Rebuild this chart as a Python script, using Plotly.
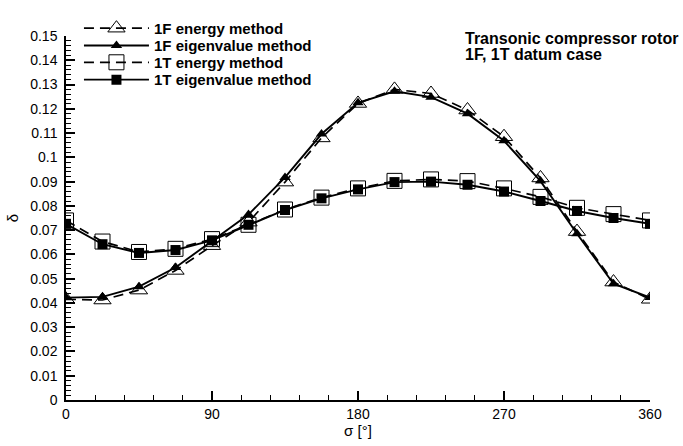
import plotly.graph_objects as go

sigma = [0, 22.5, 45, 67.5, 90, 112.5, 135, 157.5, 180, 202.5, 225, 247.5, 270, 292.5, 315, 337.5, 360]
f1_energy = [0.0415, 0.0412, 0.0453, 0.0534, 0.0636, 0.0733, 0.0898, 0.1080, 0.1222, 0.1280, 0.1263, 0.1195, 0.1085, 0.0915, 0.0694, 0.0486, 0.0415]
f1_eigen = [0.0422, 0.0425, 0.0467, 0.0546, 0.0655, 0.0764, 0.0917, 0.1096, 0.1225, 0.1272, 0.1248, 0.1180, 0.1068, 0.0902, 0.0685, 0.0479, 0.0422]
t1_energy = [0.0740, 0.0653, 0.0610, 0.0623, 0.0663, 0.0722, 0.0785, 0.0834, 0.0872, 0.0903, 0.0909, 0.0902, 0.0872, 0.0837, 0.0792, 0.0766, 0.0740]
t1_eigen = [0.0726, 0.0642, 0.0606, 0.0618, 0.0658, 0.0722, 0.0783, 0.0831, 0.0868, 0.0898, 0.0900, 0.0887, 0.0859, 0.0820, 0.0779, 0.0750, 0.0726]

names = ["1F energy method", "1F eigenvalue method", "1T energy method", "1T eigenvalue method"]

FONT = "Liberation Sans, Arial, Helvetica, sans-serif"
DASH = "10px,6px"

# plot area in pixels
L, R, T, B = 64, 33, 22, 40
W, H = 683, 446
PW, PH = W - L - R, H - T - B


def py(p):  # pixel y -> paper y
    return (H - B - p) / PH


def px(p):  # pixel x -> paper x
    return (p - L) / PW


fig = go.Figure()
fig.add_trace(go.Scatter(x=sigma, y=f1_energy, mode="lines+markers", name=names[0], legend="legend",
                         line=dict(color="black", width=1.7, dash=DASH),
                         marker=dict(symbol="triangle-up-open", size=15, color="black", line=dict(width=1, color="black"))))
fig.add_trace(go.Scatter(x=sigma, y=f1_eigen, mode="lines+markers", name=names[1], legend="legend2",
                         line=dict(color="black", width=1.9),
                         marker=dict(symbol="triangle-up", size=10, color="black")))
fig.add_trace(go.Scatter(x=sigma, y=t1_energy, mode="lines+markers", name=names[2], legend="legend3",
                         line=dict(color="black", width=1.7, dash=DASH),
                         marker=dict(symbol="square-open", size=15, color="black", line=dict(width=1, color="black"))))
fig.add_trace(go.Scatter(x=sigma, y=t1_eigen, mode="lines+markers", name=names[3], legend="legend4",
                         line=dict(color="black", width=1.9),
                         marker=dict(symbol="square", size=10, color="black")))

row_centers = [14, 32.3, 50, 68.3]
leg_common = dict(x=px(77), xanchor="left", yanchor="middle",
                  bgcolor="rgba(0,0,0,0)", borderwidth=0, itemwidth=65,
                  font=dict(family=FONT, size=15, color="black", weight="bold"))

fig.update_layout(
    width=W, height=H,
    margin=dict(l=L, r=R, t=T, b=B),
    paper_bgcolor="white", plot_bgcolor="white",
    font=dict(family=FONT, size=14, color="black"),
    showlegend=True,
    legend=dict(y=py(row_centers[0]), **leg_common),
    legend2=dict(y=py(row_centers[1]), **leg_common),
    legend3=dict(y=py(row_centers[2]), **leg_common),
    legend4=dict(y=py(row_centers[3]), **leg_common),
    xaxis=dict(range=[0, 360], tickmode="linear", tick0=0, dtick=90,
               showline=True, linecolor="black", linewidth=1.5, mirror=False,
               ticks="inside", ticklen=9, tickwidth=1.5, tickcolor="black",
               minor=dict(dtick=18, ticks="inside", ticklen=5, tickwidth=1, tickcolor="black"),
               showgrid=False, zeroline=False,
               tickfont=dict(size=14),
               title=dict(text="σ [°]", font=dict(size=15), standoff=2)),
    yaxis=dict(range=[0, 0.15], tickmode="linear", tick0=0, dtick=0.01,
               showline=True, linecolor="black", linewidth=1.5, mirror=False,
               ticks="inside", ticklen=9, tickwidth=1.5, tickcolor="black",
               minor=dict(dtick=0.002, ticks="inside", ticklen=5, tickwidth=1, tickcolor="black"),
               showgrid=False, zeroline=False,
               tickfont=dict(size=14), ticklabelstandoff=4,
               title=dict(text="δ", font=dict(size=15), standoff=8)),
)

note_lines = ["Transonic compressor rotor", "1F, 1T datum case"]
for txt, yc in zip(note_lines, [24.5, 41.5]):
    fig.add_annotation(xref="paper", yref="paper", x=px(463), y=py(yc),
                       xanchor="left", yanchor="middle", align="left", showarrow=False,
                       text="<b>" + txt + "</b>", borderpad=0,
                       font=dict(family=FONT, size=16, color="black"))

fig.write_html("out.html")
